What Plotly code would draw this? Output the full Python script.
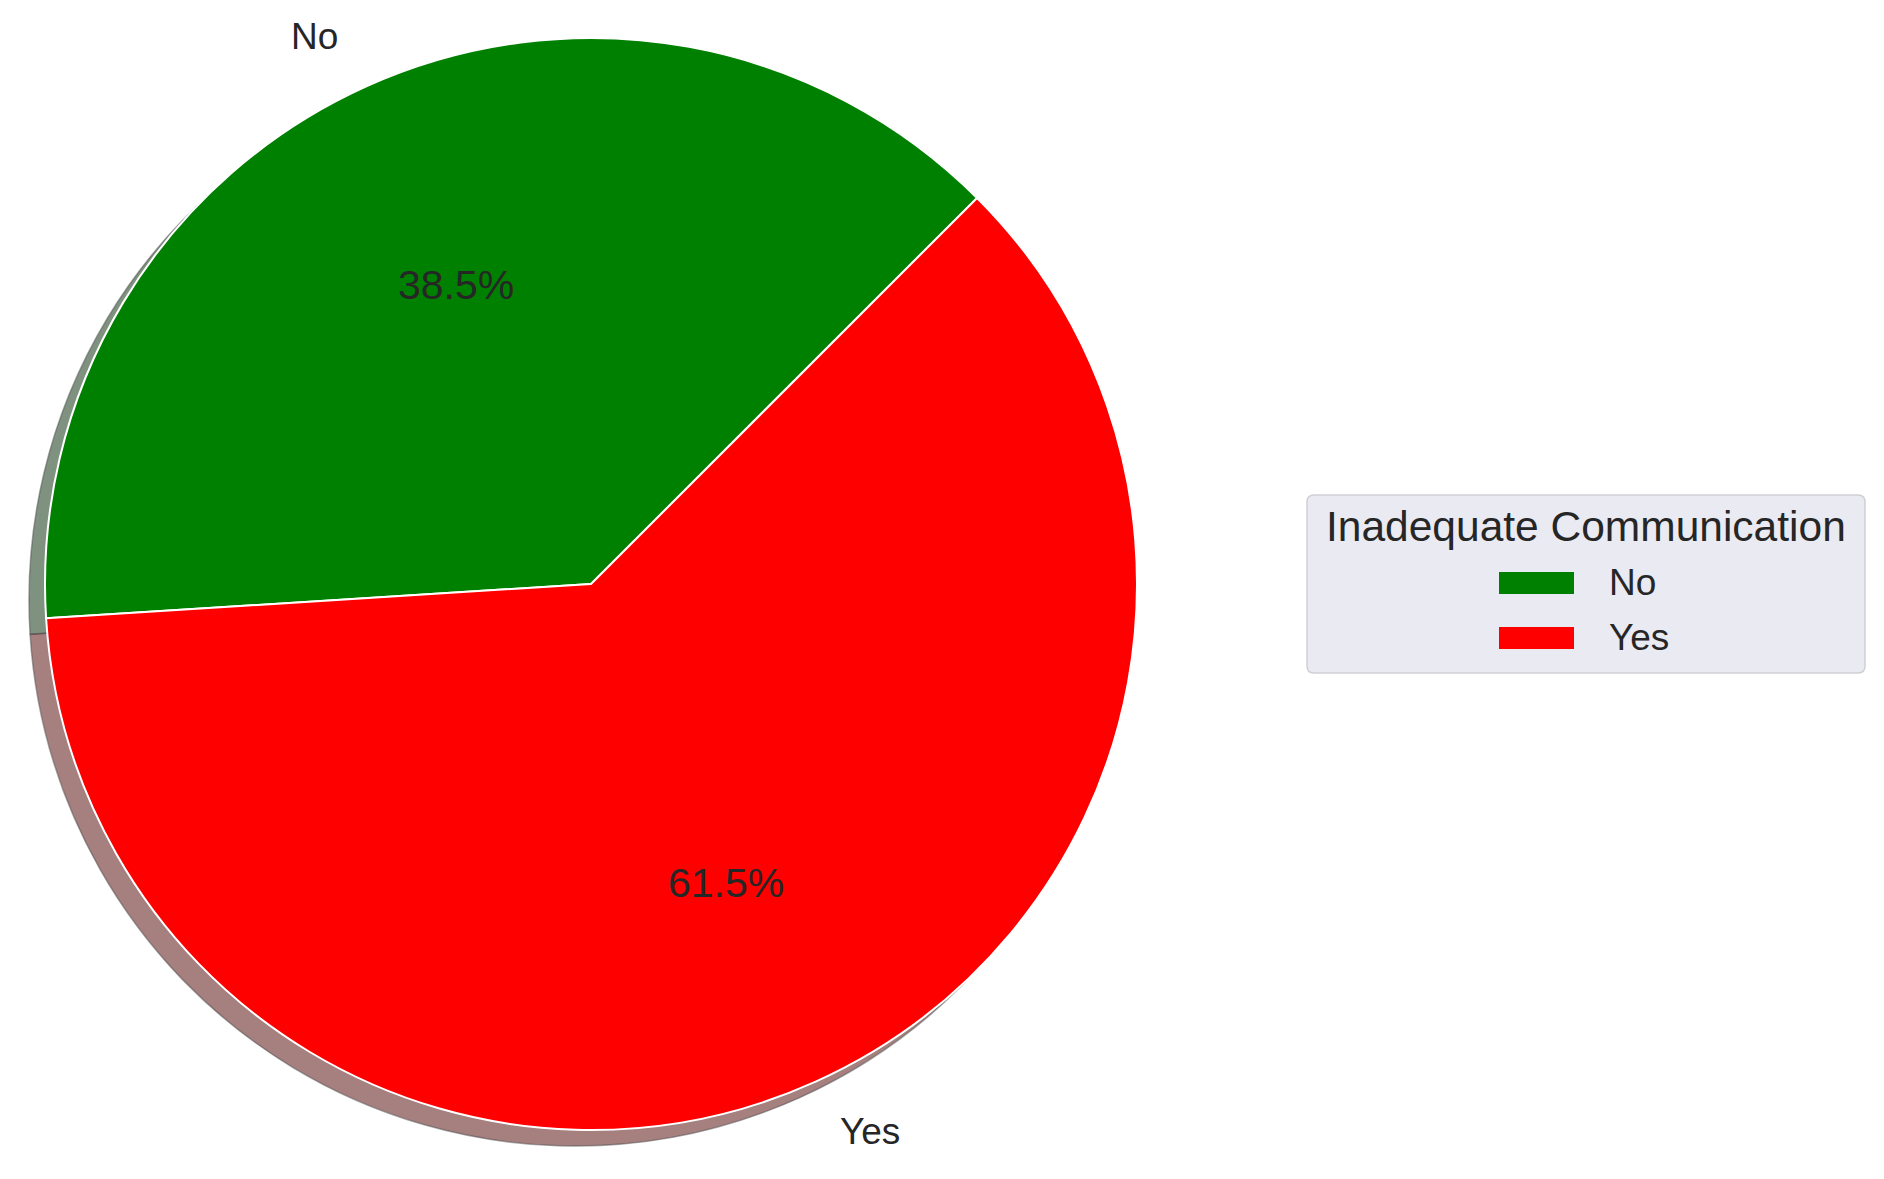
import math
import plotly.graph_objects as go

# ---- data ----
categories = ["No", "Yes"]
shares = [38.5, 61.5]
slice_colors = ["#008000", "#ff0000"]
shadow_colors = ["rgba(0,38,0,0.5)", "rgba(77,0,0,0.5)"]
legend_title = "Inadequate Communication"

# ---- layout constants (pixels) ----
W, H = 1884, 1179
CX, CY, R = 591, 584, 546
SHADOW_DX, SHADOW_DY = -16, 16
START_ANGLE = 45  # degrees, counter-clockwise from 3 o'clock
FONT = "Liberation Sans, Arial, sans-serif"
TXT = "#262626"


def px_x(x):
    return x / W


def px_y(y):
    return 1 - y / H


def domain(cx, cy, r):
    return dict(x=[px_x(cx - r), px_x(cx + r)], y=[px_y(cy + r), px_y(cy - r)])


total = sum(shares)
frac_first = shares[0] / total
# clockwise-from-12 rotation so the first slice runs CCW from START_ANGLE
rotation = (90 - START_ANGLE) - 360 * frac_first

fig = go.Figure()

# shadow
fig.add_trace(go.Pie(
    labels=categories, values=shares, sort=False, direction="clockwise",
    rotation=rotation, textinfo="none", hoverinfo="skip", showlegend=False,
    marker=dict(colors=shadow_colors, line=dict(color="rgba(77,77,77,0.5)", width=1.5)),
    domain=domain(CX + SHADOW_DX, CY + SHADOW_DY, R),
))

# main pie
fig.add_trace(go.Pie(
    labels=categories, values=shares, sort=False, direction="clockwise",
    rotation=rotation, textinfo="none", showlegend=False,
    marker=dict(colors=slice_colors, line=dict(color="white", width=2)),
    domain=domain(CX, CY, R),
))

annotations = []
cum = 0.0
for cat, v in zip(categories, shares):
    t1 = START_ANGLE + 360 * cum / total
    cum += v
    t2 = START_ANGLE + 360 * cum / total
    mid = math.radians((t1 + t2) / 2)
    c, s = math.cos(mid), math.sin(mid)
    # outer label
    lx, ly = CX + 1.1 * R * c, CY - 1.1 * R * s
    annotations.append(dict(
        x=px_x(lx - (4 if c < 0 else 0)), y=px_y(ly), xref="paper", yref="paper", text=cat,
        showarrow=False, xanchor="right" if c < 0 else "left", yanchor="middle",
        font=dict(family=FONT, size=37, color=TXT),
    ))
    # percentage
    qx, qy = CX + 0.6 * R * c, CY - 0.6 * R * s
    annotations.append(dict(
        x=px_x(qx), y=px_y(qy), xref="paper", yref="paper",
        text=f"{100 * v / total:.1f}%", showarrow=False,
        xanchor="center", yanchor="middle",
        font=dict(family=FONT, size=41, color=TXT),
    ))

# ---- legend (drawn) ----
LX0, LX1, LY0, LY1 = 1307, 1865, 495, 673
rad = 7


def rounded_rect(x0, y0, x1, y1, r):
    X = lambda v: f"{px_x(v):.6f}"
    Y = lambda v: f"{px_y(v):.6f}"
    return (f"M {X(x0 + r)} {Y(y0)} L {X(x1 - r)} {Y(y0)} "
            f"Q {X(x1)} {Y(y0)} {X(x1)} {Y(y0 + r)} L {X(x1)} {Y(y1 - r)} "
            f"Q {X(x1)} {Y(y1)} {X(x1 - r)} {Y(y1)} L {X(x0 + r)} {Y(y1)} "
            f"Q {X(x0)} {Y(y1)} {X(x0)} {Y(y1 - r)} L {X(x0)} {Y(y0 + r)} "
            f"Q {X(x0)} {Y(y0)} {X(x0 + r)} {Y(y0)} Z")


shapes = [dict(type="path", xref="paper", yref="paper",
               path=rounded_rect(LX0, LY0, LX1, LY1, rad),
               fillcolor="#eaeaf2", line=dict(color="#cfcfd6", width=1.5))]

annotations.append(dict(
    x=px_x((LX0 + LX1) / 2), y=px_y(527), xref="paper", yref="paper",
    text=legend_title, showarrow=False, xanchor="center", yanchor="middle",
    font=dict(family=FONT, size=42.5, color=TXT),
))

entry_y = [583, 638]
for cat, col, ey in zip(categories, slice_colors, entry_y):
    shapes.append(dict(type="rect", xref="paper", yref="paper",
                       x0=px_x(1499), x1=px_x(1574), y0=px_y(ey + 11), y1=px_y(ey - 11),
                       fillcolor=col, line=dict(width=0)))
    annotations.append(dict(
        x=px_x(1607), y=px_y(ey), xref="paper", yref="paper", text=cat,
        showarrow=False, xanchor="left", yanchor="middle",
        font=dict(family=FONT, size=37, color=TXT),
    ))

fig.update_layout(
    width=W, height=H, autosize=False,
    margin=dict(l=0, r=0, t=0, b=0),
    paper_bgcolor="white", plot_bgcolor="white",
    showlegend=False,
    annotations=annotations, shapes=shapes,
)

fig.write_html("out.html", config={"displayModeBar": False},
               post_script="document.body.style.margin='0px';")
